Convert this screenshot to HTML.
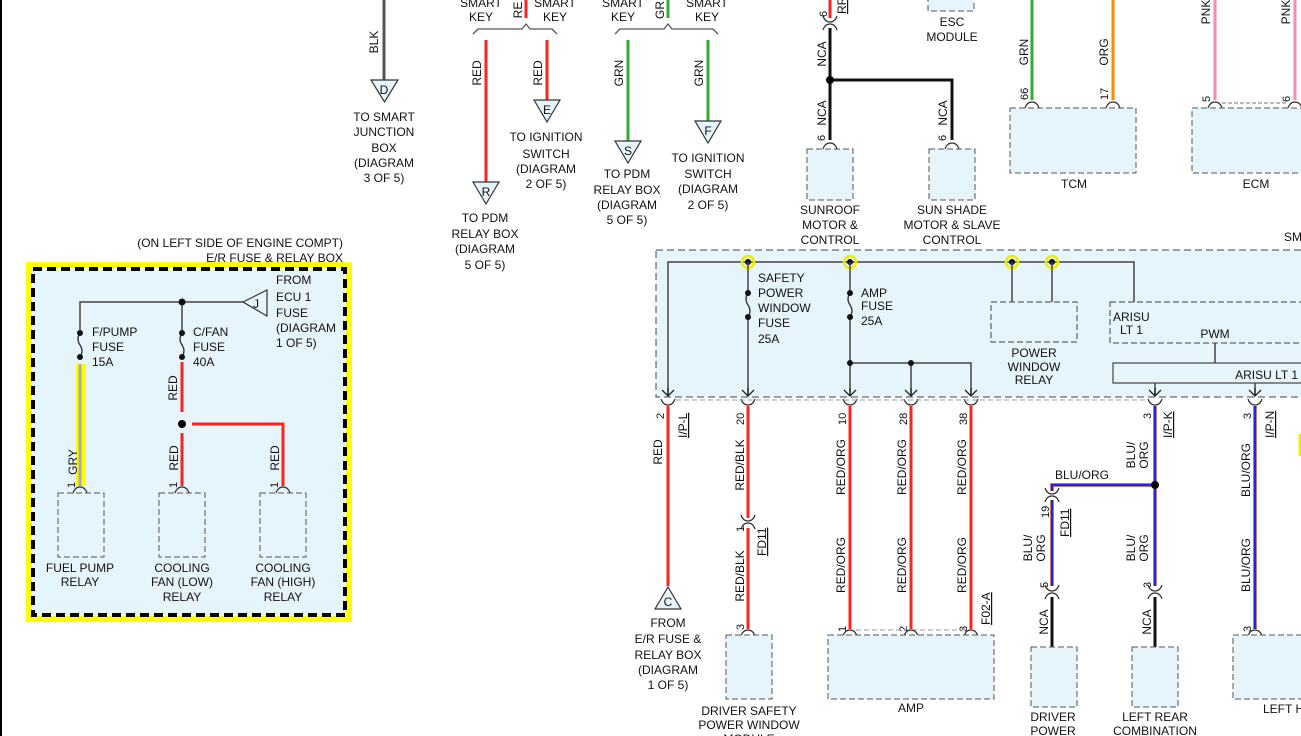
<!DOCTYPE html>
<html><head><meta charset="utf-8"><style>
html,body{margin:0;padding:0;background:#fff;}
svg{display:block;font-family:"Liberation Sans",sans-serif;font-size:12px;fill:#111;}
</style></head><body>
<svg width="1301" height="736" viewBox="0 0 1301 736" xmlns="http://www.w3.org/2000/svg">
<defs>
<g id="conU"><path d="M-7,4 Q-5,-2 0,-2 Q5,-2 7,4" fill="none" stroke="#333" stroke-width="1.2"/></g>
<g id="conD"><path d="M-7,-4 Q-5,2 0,2 Q5,2 7,-4" fill="none" stroke="#333" stroke-width="1.2"/></g>
<g id="arr"><path d="M-6,-6 L0,0 L6,-6 M0,0 V-8" fill="none" stroke="#222" stroke-width="1.3"/></g>
</defs>
<line x1="1" y1="0" x2="1" y2="736" stroke="#000" stroke-width="2"/>

<!-- BLK / D -->
<line x1="384" y1="0" x2="384" y2="80" stroke="#555" stroke-width="3"/>
<text transform="translate(378,42) rotate(-90)" text-anchor="middle">BLK</text>
<polygon points="371,80 398,80 384.5,102" fill="#e6f4fb" stroke="#333" stroke-width="1.2"/>
<text x="384" y="94" text-anchor="middle">D</text>
<g text-anchor="middle"><text x="384" y="121">TO SMART</text><text x="384" y="136">JUNCTION</text><text x="384" y="152">BOX</text><text x="384" y="167">(DIAGRAM</text><text x="384" y="182">3 OF 5)</text></g>

<!-- Smart key group 1 -->
<g text-anchor="middle"><text x="481" y="7">SMART</text><text x="481" y="21">KEY</text><text x="555" y="7">SMART</text><text x="555" y="21">KEY</text></g>
<line x1="526" y1="0" x2="526" y2="18" stroke="#f22" stroke-width="3"/>
<text transform="translate(522,10) rotate(-90)" text-anchor="middle">RE</text>
<path d="M473,34 L478,29 L522,29 L526,24 L530,29 L552,29 L557,34" fill="none" stroke="#555" stroke-width="1.3"/>
<line x1="486" y1="40" x2="486" y2="182" stroke="#f22" stroke-width="3"/>
<line x1="547" y1="40" x2="547" y2="100" stroke="#f22" stroke-width="3"/>
<text transform="translate(481,73) rotate(-90)" text-anchor="middle">RED</text>
<text transform="translate(542,73) rotate(-90)" text-anchor="middle">RED</text>
<polygon points="473,182 499,182 486,204" fill="#e6f4fb" stroke="#333" stroke-width="1.2"/><text x="486" y="196" text-anchor="middle">R</text>
<polygon points="534,100 560,100 547,122" fill="#e6f4fb" stroke="#333" stroke-width="1.2"/><text x="547" y="114" text-anchor="middle">E</text>
<g text-anchor="middle"><text x="485" y="222">TO PDM</text><text x="485" y="238">RELAY BOX</text><text x="485" y="253">(DIAGRAM</text><text x="485" y="269">5 OF 5)</text>
<text x="546" y="141">TO IGNITION</text><text x="546" y="158">SWITCH</text><text x="546" y="173">(DIAGRAM</text><text x="546" y="188">2 OF 5)</text></g>

<!-- Smart key group 2 -->
<g text-anchor="middle"><text x="623" y="7">SMART</text><text x="623" y="21">KEY</text><text x="707" y="7">SMART</text><text x="707" y="21">KEY</text></g>
<line x1="668" y1="0" x2="668" y2="18" stroke="#3a3" stroke-width="3"/>
<text transform="translate(664,10) rotate(-90)" text-anchor="middle">GR</text>
<path d="M615,34 L620,29 L664,29 L668,24 L672,29 L713,29 L718,34" fill="none" stroke="#555" stroke-width="1.3"/>
<line x1="628" y1="40" x2="628" y2="141" stroke="#3a3" stroke-width="3"/>
<line x1="708" y1="40" x2="708" y2="121" stroke="#3a3" stroke-width="3"/>
<text transform="translate(623,73) rotate(-90)" text-anchor="middle">GRN</text>
<text transform="translate(703,73) rotate(-90)" text-anchor="middle">GRN</text>
<polygon points="615,141 641,141 628,163" fill="#e6f4fb" stroke="#333" stroke-width="1.2"/><text x="628" y="155" text-anchor="middle">S</text>
<polygon points="695,121 721,121 708,143" fill="#e6f4fb" stroke="#333" stroke-width="1.2"/><text x="708" y="135" text-anchor="middle">F</text>
<g text-anchor="middle"><text x="627" y="178">TO PDM</text><text x="627" y="194">RELAY BOX</text><text x="627" y="209">(DIAGRAM</text><text x="627" y="224">5 OF 5)</text>
<text x="708" y="162">TO IGNITION</text><text x="708" y="178">SWITCH</text><text x="708" y="193">(DIAGRAM</text><text x="708" y="209">2 OF 5)</text></g>

<!-- Sunroof -->
<line x1="830" y1="0" x2="830" y2="18" stroke="#f22" stroke-width="3"/>
<text transform="translate(827,17) rotate(-90)" font-size="11">6</text>
<text transform="translate(846,14) rotate(-90)" text-decoration="underline">RR</text>
<use href="#conD" x="830" y="20"/><use href="#conU" x="830" y="26"/>
<path d="M830,28 V140 M830,80 H952 V140" fill="none" stroke="#111" stroke-width="3"/>
<circle cx="830" cy="80" r="4" fill="#000"/>
<text transform="translate(826,54) rotate(-90)" text-anchor="middle">NCA</text>
<text transform="translate(826,113) rotate(-90)" text-anchor="middle">NCA</text>
<text transform="translate(947,113) rotate(-90)" text-anchor="middle">NCA</text>
<text transform="translate(825,141) rotate(-90)" font-size="11">6</text>
<text transform="translate(946,141) rotate(-90)" font-size="11">6</text>
<use href="#conU" x="830" y="145"/><use href="#conU" x="952" y="145"/>
<rect x="807" y="149" width="46" height="51" fill="#e6f4fb" stroke="#555" stroke-dasharray="6,3"/>
<rect x="929" y="149" width="46" height="51" fill="#e6f4fb" stroke="#555" stroke-dasharray="6,3"/>
<g text-anchor="middle"><text x="830" y="214">SUNROOF</text><text x="830" y="229">MOTOR &amp;</text><text x="830" y="244">CONTROL</text>
<text x="952" y="214">SUN SHADE</text><text x="952" y="229">MOTOR &amp; SLAVE</text><text x="952" y="244">CONTROL</text>
<text x="952" y="26">ESC</text><text x="952" y="41">MODULE</text></g>
<rect x="928" y="-5" width="46" height="16" fill="#e6f4fb" stroke="#555" stroke-dasharray="6,3"/>

<!-- TCM / ECM -->
<line x1="1032" y1="0" x2="1032" y2="100" stroke="#3a3" stroke-width="3"/>
<line x1="1113" y1="0" x2="1113" y2="100" stroke="#f80" stroke-width="3"/>
<line x1="1215" y1="0" x2="1215" y2="100" stroke="#f8a" stroke-width="3"/>
<line x1="1295" y1="0" x2="1295" y2="100" stroke="#f8a" stroke-width="3"/>
<text transform="translate(1028,52) rotate(-90)" text-anchor="middle">GRN</text>
<text transform="translate(1108,52) rotate(-90)" text-anchor="middle">ORG</text>
<text transform="translate(1210,12) rotate(-90)" text-anchor="middle">PNK</text>
<text transform="translate(1290,12) rotate(-90)" text-anchor="middle">PNK</text>
<text transform="translate(1028,100) rotate(-90)" font-size="11">66</text>
<text transform="translate(1108,100) rotate(-90)" font-size="11">17</text>
<text transform="translate(1210,102) rotate(-90)" font-size="11">5</text>
<text transform="translate(1290,102) rotate(-90)" font-size="11">6</text>
<use href="#conU" x="1032" y="104"/><use href="#conU" x="1113" y="104"/><use href="#conU" x="1215" y="104"/><use href="#conU" x="1295" y="104"/>
<line x1="1222" y1="103" x2="1288" y2="103" stroke="#777" stroke-dasharray="4,2"/>
<rect x="1010" y="108" width="126" height="65" fill="#e6f4fb" stroke="#555" stroke-dasharray="6,3"/>
<rect x="1192" y="108" width="115" height="65" fill="#e6f4fb" stroke="#555" stroke-dasharray="6,3"/>
<text x="1074" y="188" text-anchor="middle">TCM</text>
<text x="1256" y="188" text-anchor="middle">ECM</text>
<text x="1284" y="241">SM</text>

<!-- E/R box -->
<text x="343" y="247" text-anchor="end">(ON LEFT SIDE OF ENGINE COMPT)</text>
<text x="343" y="262" text-anchor="end">E/R FUSE &amp; RELAY BOX</text>
<rect x="29" y="265" width="320" height="354" fill="#e6f4fb" stroke="#ff0" stroke-width="6"/>
<rect x="33" y="269" width="312" height="346" fill="none" stroke="#000" stroke-width="4" stroke-dasharray="9,5"/>
<path d="M80,330 V302 H243" fill="none" stroke="#444" stroke-width="1.5"/>
<line x1="182" y1="302" x2="182" y2="333" stroke="#444" stroke-width="1.5"/>
<circle cx="182" cy="302" r="3.5" fill="#111"/>
<polygon points="243,302 267,290 267,316" fill="#e6f4fb" stroke="#333" stroke-width="1.2"/>
<text x="256" y="308" text-anchor="middle">J</text>
<g fill="none" stroke="#333" stroke-width="1.3"><path d="M80,333 q-4,6 0,12 q4,6 0,12"/><path d="M182,333 q-4,6 0,12 q4,6 0,12"/></g>
<circle cx="80" cy="333" r="3" fill="#111"/><circle cx="80" cy="357" r="3" fill="#111"/>
<circle cx="182" cy="333" r="3" fill="#111"/><circle cx="182" cy="357" r="3" fill="#111"/>
<g><text x="92" y="336">F/PUMP</text><text x="92" y="351">FUSE</text><text x="92" y="366">15A</text>
<text x="193" y="336">C/FAN</text><text x="193" y="351">FUSE</text><text x="193" y="366">40A</text>
<text x="276" y="284">FROM</text><text x="276" y="301">ECU 1</text><text x="276" y="317">FUSE</text><text x="276" y="332">(DIAGRAM</text><text x="276" y="347">1 OF 5)</text></g>
<line x1="81" y1="364" x2="81" y2="486" stroke="#ff0" stroke-width="10"/>
<line x1="80" y1="364" x2="80" y2="486" stroke="#aaa" stroke-width="3"/>
<path d="M182,362 V412 M182,433 V486 M192,424 H283 V486" fill="none" stroke="#f22" stroke-width="3"/>
<circle cx="182" cy="424" r="4" fill="#000"/>
<text transform="translate(77,462) rotate(-90)" text-anchor="middle">GRY</text>
<text transform="translate(177,388) rotate(-90)" text-anchor="middle">RED</text>
<text transform="translate(178,458) rotate(-90)" text-anchor="middle">RED</text>
<text transform="translate(279,458) rotate(-90)" text-anchor="middle">RED</text>
<text transform="translate(75,488) rotate(-90)" font-size="11">1</text>
<text transform="translate(177,488) rotate(-90)" font-size="11">1</text>
<text transform="translate(278,488) rotate(-90)" font-size="11">1</text>
<use href="#conU" x="80" y="489"/><use href="#conU" x="182" y="489"/><use href="#conU" x="283" y="489"/>
<g fill="none" stroke="#555" stroke-dasharray="6,3"><rect x="58" y="493" width="46" height="64"/><rect x="159" y="493" width="46" height="64"/><rect x="260" y="493" width="46" height="64"/></g>
<g text-anchor="middle"><text x="80" y="572">FUEL PUMP</text><text x="80" y="586">RELAY</text>
<text x="182" y="572">COOLING</text><text x="182" y="586">FAN (LOW)</text><text x="182" y="601">RELAY</text>
<text x="283" y="572">COOLING</text><text x="283" y="586">FAN (HIGH)</text><text x="283" y="601">RELAY</text></g>

<!-- SMART module box -->
<rect x="656" y="250" width="660" height="147" fill="#e6f4fb" stroke="#444" stroke-dasharray="7,4"/>
<path d="M668,396 V262 H1134 V302" fill="none" stroke="#444" stroke-width="1.5"/>
<g fill="none" stroke="#ee0" stroke-width="2.5"><circle cx="748" cy="262" r="6"/><circle cx="850" cy="262" r="6"/><circle cx="1012" cy="262" r="6"/><circle cx="1052" cy="262" r="6"/></g>
<g fill="#111"><circle cx="748" cy="262" r="3"/><circle cx="850" cy="262" r="3"/><circle cx="1012" cy="262" r="3"/><circle cx="1052" cy="262" r="3"/></g>
<g fill="none" stroke="#444" stroke-width="1.5">
<path d="M748,262 V293 M748,317 V396"/><path d="M850,262 V293 M850,317 V396"/>
<path d="M850,363 H971 V396 M911,363 V396"/>
<path d="M1012,262 V302 M1052,262 V302"/>
<path d="M1215,343 V363 M1155,383 V396 M1255,383 V396"/></g>
<g fill="none" stroke="#333" stroke-width="1.3"><path d="M748,293 q-4,6 0,12 q4,6 0,12"/><path d="M850,293 q-4,6 0,12 q4,6 0,12"/></g>
<g fill="#111"><circle cx="748" cy="293" r="3"/><circle cx="748" cy="317" r="3"/><circle cx="850" cy="293" r="3"/><circle cx="850" cy="317" r="3"/><circle cx="850" cy="363" r="3"/><circle cx="911" cy="363" r="3"/></g>
<use href="#arr" x="668" y="396"/><use href="#arr" x="748" y="396"/><use href="#arr" x="850" y="396"/><use href="#arr" x="911" y="396"/><use href="#arr" x="971" y="396"/><use href="#arr" x="1155" y="396"/><use href="#arr" x="1255" y="396"/>
<text x="758" y="282">SAFETY</text><text x="758" y="297">POWER</text><text x="758" y="312">WINDOW</text><text x="758" y="327">FUSE</text><text x="758" y="343">25A</text>
<text x="861" y="297">AMP</text><text x="861" y="310">FUSE</text><text x="861" y="325">25A</text>
<rect x="991" y="302" width="86" height="40" fill="#e6f4fb" stroke="#444" stroke-dasharray="6,3"/>
<g text-anchor="middle"><text x="1034" y="357">POWER</text><text x="1034" y="371">WINDOW</text><text x="1034" y="384">RELAY</text></g>
<rect x="1110" y="302" width="200" height="41" fill="#e6f4fb" stroke="#444" stroke-dasharray="6,3"/>
<text x="1113" y="321">ARISU</text><text x="1120" y="334">LT 1</text><text x="1215" y="338" text-anchor="middle">PWM</text>
<rect x="1113" y="363" width="200" height="20" fill="#e6f4fb" stroke="#444" stroke-width="1.2"/>
<text x="1298" y="379" text-anchor="end">ARISU LT 1</text>

<!-- below connectors -->
<g><use href="#conD" x="668" y="403"/><use href="#conD" x="748" y="403"/><use href="#conD" x="850" y="403"/><use href="#conD" x="911" y="403"/><use href="#conD" x="971" y="403"/><use href="#conD" x="1155" y="403"/><use href="#conD" x="1255" y="403"/></g>
<line x1="676" y1="400" x2="1147" y2="400" stroke="#999" stroke-dasharray="5,3"/>
<g font-size="11"><text transform="translate(664,419) rotate(-90)">2</text><text transform="translate(744,425) rotate(-90)">20</text><text transform="translate(846,425) rotate(-90)">10</text><text transform="translate(907,425) rotate(-90)">28</text><text transform="translate(967,425) rotate(-90)">38</text><text transform="translate(1151,419) rotate(-90)">3</text><text transform="translate(1251,419) rotate(-90)">3</text></g>
<g text-decoration="underline"><text transform="translate(687,438) rotate(-90)">I/P-L</text><text transform="translate(1172,438) rotate(-90)">I/P-K</text><text transform="translate(1274,438) rotate(-90)">I/P-N</text></g>

<!-- red wires -->
<line x1="668" y1="406" x2="668" y2="586" stroke="#f22" stroke-width="3"/>
<text transform="translate(662,452) rotate(-90)" text-anchor="middle">RED</text>
<polygon points="655,609 681,609 668,587" fill="#e6f4fb" stroke="#333" stroke-width="1.2"/><text x="668" y="606" text-anchor="middle">C</text>
<g text-anchor="middle"><text x="668" y="627">FROM</text><text x="668" y="643">E/R FUSE &amp;</text><text x="668" y="659">RELAY BOX</text><text x="668" y="674">(DIAGRAM</text><text x="668" y="689">1 OF 5)</text></g>

<path d="M748,406 V518 M748,528 V629" stroke="#f22" stroke-width="3" fill="none"/>
<use href="#conD" x="748" y="519"/><use href="#conU" x="748" y="525"/>
<text transform="translate(744,465) rotate(-90)" text-anchor="middle">RED/BLK</text>
<text transform="translate(744,576) rotate(-90)" text-anchor="middle">RED/BLK</text>
<text transform="translate(744,532) rotate(-90)" font-size="11">1</text>
<text transform="translate(766,556) rotate(-90)" text-decoration="underline">FD11</text>

<g stroke="#f22" stroke-width="3"><line x1="850" y1="406" x2="850" y2="629"/><line x1="911" y1="406" x2="911" y2="629"/><line x1="971" y1="406" x2="971" y2="629"/></g>
<g text-anchor="middle"><text transform="translate(845,467) rotate(-90)">RED/ORG</text><text transform="translate(906,467) rotate(-90)">RED/ORG</text><text transform="translate(966,467) rotate(-90)">RED/ORG</text>
<text transform="translate(845,565) rotate(-90)">RED/ORG</text><text transform="translate(906,565) rotate(-90)">RED/ORG</text><text transform="translate(966,565) rotate(-90)">RED/ORG</text></g>
<text transform="translate(990,625) rotate(-90)" text-decoration="underline">F02-A</text>
<g font-size="11"><text transform="translate(744,630) rotate(-90)">3</text><text transform="translate(846,632) rotate(-90)">1</text><text transform="translate(907,632) rotate(-90)">2</text><text transform="translate(967,632) rotate(-90)">3</text><text transform="translate(1251,632) rotate(-90)">3</text></g>
<line x1="856" y1="630" x2="965" y2="630" stroke="#999" stroke-dasharray="5,3"/>
<use href="#conU" x="748" y="632"/><use href="#conU" x="850" y="632"/><use href="#conU" x="911" y="632"/><use href="#conU" x="971" y="632"/><use href="#conU" x="1255" y="632"/>
<rect x="726" y="635" width="46" height="64" fill="#e6f4fb" stroke="#555" stroke-dasharray="6,3"/>
<rect x="828" y="635" width="166" height="64" fill="#e6f4fb" stroke="#555" stroke-dasharray="6,3"/>
<g text-anchor="middle"><text x="749" y="715">DRIVER SAFETY</text><text x="749" y="729">POWER WINDOW</text><text x="749" y="743">MODULE</text><text x="911" y="712">AMP</text></g>

<!-- blue wires -->
<path d="M1155,406 V586 M1155,485 H1052 V491 M1052,500 V586 M1255,406 V629" fill="none" stroke="#f93" stroke-width="4"/>
<path d="M1155,406 V586 M1155,485 H1052 V491 M1052,500 V586 M1255,406 V629" fill="none" stroke="#22e" stroke-width="2.5"/>
<circle cx="1155" cy="485" r="4" fill="#000"/>
<use href="#conD" x="1052" y="492"/><use href="#conU" x="1052" y="498"/>
<text x="1055" y="479">BLU/ORG</text>
<text transform="translate(1135,455) rotate(-90)" text-anchor="middle">BLU/</text><text transform="translate(1148,455) rotate(-90)" text-anchor="middle">ORG</text>
<text transform="translate(1135,548) rotate(-90)" text-anchor="middle">BLU/</text><text transform="translate(1148,548) rotate(-90)" text-anchor="middle">ORG</text>
<text transform="translate(1032,548) rotate(-90)" text-anchor="middle">BLU/</text><text transform="translate(1045,548) rotate(-90)" text-anchor="middle">ORG</text>
<text transform="translate(1049,518) rotate(-90)" font-size="11">19</text>
<text transform="translate(1069,537) rotate(-90)" text-decoration="underline">FD11</text>
<text transform="translate(1250,470) rotate(-90)" text-anchor="middle">BLU/ORG</text>
<text transform="translate(1250,565) rotate(-90)" text-anchor="middle">BLU/ORG</text>
<text transform="translate(1048,588) rotate(-90)" font-size="11">5</text>
<text transform="translate(1151,588) rotate(-90)" font-size="11">3</text>
<use href="#conD" x="1052" y="589"/><use href="#conU" x="1052" y="595"/><use href="#conD" x="1155" y="589"/><use href="#conU" x="1155" y="595"/>
<g stroke="#111" stroke-width="3"><line x1="1052" y1="597" x2="1052" y2="647"/><line x1="1155" y1="597" x2="1155" y2="647"/></g>
<text transform="translate(1048,622) rotate(-90)" text-anchor="middle">NCA</text>
<text transform="translate(1151,622) rotate(-90)" text-anchor="middle">NCA</text>
<rect x="1031" y="647" width="46" height="60" fill="#e6f4fb" stroke="#555" stroke-dasharray="6,3"/>
<rect x="1132" y="647" width="46" height="60" fill="#e6f4fb" stroke="#555" stroke-dasharray="6,3"/>
<rect x="1233" y="635" width="80" height="64" fill="#e6f4fb" stroke="#555" stroke-dasharray="6,3"/>
<g text-anchor="middle"><text x="1053" y="721">DRIVER</text><text x="1053" y="735">POWER</text><text x="1155" y="721">LEFT REAR</text><text x="1155" y="735">COMBINATION</text></g>
<text x="1263" y="713">LEFT H</text>
<line x1="1300" y1="434" x2="1300" y2="456" stroke="#ee0" stroke-width="3"/>
</svg>
</body></html>
